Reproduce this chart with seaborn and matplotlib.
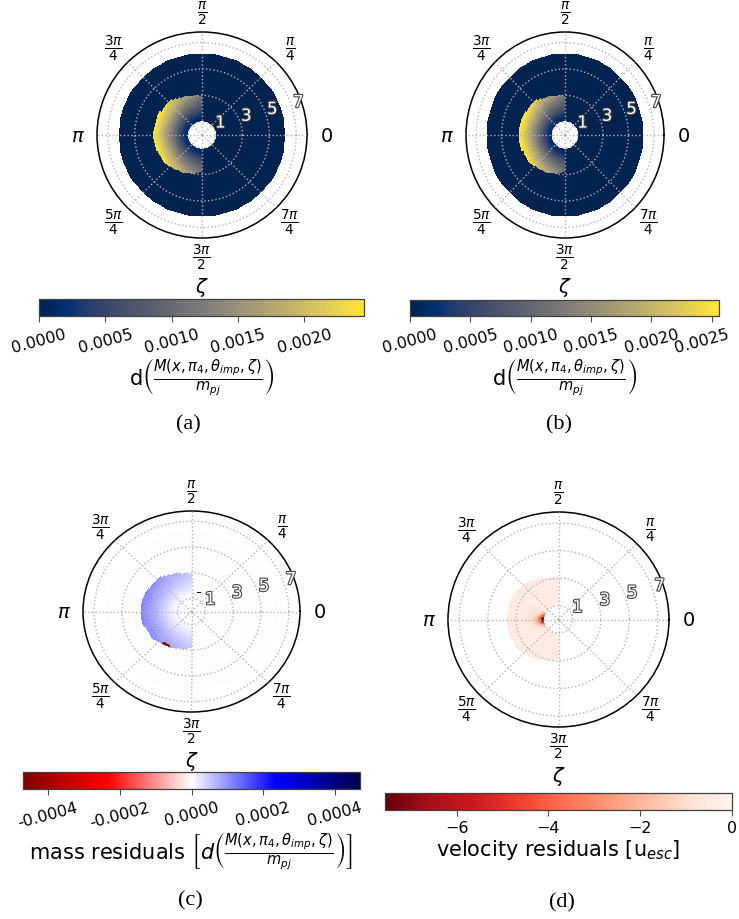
import numpy as np
import matplotlib
matplotlib.use("Agg")
import matplotlib.pyplot as plt
import matplotlib.patheffects as pe
import matplotlib.transforms as mtransforms
from matplotlib.ticker import FormatStrFormatter
import seaborn as sns

sns.set_style("white")
plt.rcParams["font.family"] = ["DejaVu Sans"]
plt.rcParams["mathtext.fontset"] = "dejavusans"
plt.rcParams["axes.unicode_minus"] = True
for key in ("text.color", "axes.labelcolor", "xtick.color", "ytick.color"):
    plt.rcParams[key] = "black"

# ---------------------------------------------------------------- data
# polar sampling of the maps (theta in degrees, r in units of x)
theta_step_deg = 5
r_inner, r_step, n_r = 1.05, 0.1, 51

# fragment region: sector centres (deg), outer radius and angular weight
blob_theta_deg = [92.5, 97.5, 102.5, 107.5, 112.5, 117.5, 122.5, 127.5, 132.5,
                  137.5, 142.5, 147.5, 152.5, 157.5, 162.5, 167.5, 172.5, 177.5,
                  182.5, 187.5, 192.5, 197.5, 202.5, 207.5, 212.5, 217.5, 222.5,
                  227.5, 232.5, 237.5, 242.5, 247.5, 252.5, 257.5, 262.5, 267.5]
blob_outer_r = [2.95, 3.0, 3.05, 3.1, 3.2, 3.3, 3.4, 3.45, 3.5,
                3.5, 3.55, 3.55, 3.6, 3.6, 3.62, 3.62, 3.62, 3.62,
                3.62, 3.62, 3.6, 3.6, 3.58, 3.55, 3.5, 3.5, 3.45,
                3.4, 3.35, 3.25, 3.2, 3.1, 3.05, 3.0, 2.95, 2.9]
blob_weight = [0.45, 0.5, 0.55, 0.6, 0.65, 0.7, 0.76, 0.82, 0.87,
               0.91, 0.94, 0.97, 0.99, 1.0, 1.0, 1.0, 1.0, 1.0,
               1.0, 1.0, 1.0, 1.0, 1.0, 0.99, 0.97, 0.94, 0.91,
               0.87, 0.82, 0.77, 0.72, 0.67, 0.62, 0.57, 0.52, 0.47]
# radial shape across the fragment region (0 = inner edge, 1 = outer edge)
profile_u = [0.0, 0.2, 0.4, 0.6, 0.8, 1.0]
profile_v = [0.0, 0.18, 0.42, 0.65, 0.86, 1.0]

# (a), (b): normalised fragment mass
mass_max_a = 0.00245
mass_max_b = 0.00256

# (c): mass residuals
resid_lim = 0.00047
resid_amp = 0.000105
resid_background = 0.000003
resid_spot_theta = [232.5, 237.5, 232.5, 237.5, 67.5, 72.5]
resid_spot_r = [3.1, 3.1, 3.2, 3.2, 1.6, 1.6]
resid_spot_value = [-0.00045, -0.00045, -0.00045, -0.00045, 0.00045, 0.00045]

# (d): velocity residuals [u_esc]
vel_min = -7.56
vel_base = -0.45
vel_core_r = [-7.1, -5.2, -3.6, -2.5, -1.8, -1.3, -1.0, -0.8, -0.6, -0.45,
              -0.35, -0.25, -0.18, -0.1]
vel_core_theta_deg = [152.5, 157.5, 162.5, 167.5, 172.5, 177.5,
                      182.5, 187.5, 192.5, 197.5, 202.5, 207.5]
vel_core_weight = [0.15, 0.25, 0.4, 0.6, 0.85, 1.0, 1.0, 0.9, 0.65, 0.42, 0.25, 0.15]

theta_labels = ["0", r"$\frac{\pi}{4}$", r"$\frac{\pi}{2}$", r"$\frac{3\pi}{4}$",
                r"$\pi$", r"$\frac{5\pi}{4}$", r"$\frac{3\pi}{2}$", r"$\frac{7\pi}{4}$"]
r_ticks = [1, 3, 5, 7]

mass_ticks = [0.0, 0.0005, 0.0010, 0.0015, 0.0020]
mass_ticks_b = [0.0, 0.0005, 0.0010, 0.0015, 0.0020, 0.0025]
resid_ticks = [-0.0004, -0.0002, 0.0, 0.0002, 0.0004]
vel_ticks = [-6, -4, -2, 0]

mass_label = r"d$\left(\frac{M(x, \pi_4, \theta_{imp}, \zeta)}{m_{pj}}\right)$"
resid_label = (r"mass residuals $\left[d\left(\frac{M(x, \pi_4, \theta_{imp}, \zeta)}"
               r"{m_{pj}}\right)\right]$")
vel_label = r"velocity residuals [u$_{esc}$]"

# ---------------------------------------------------------------- grids
theta_c = np.arange(theta_step_deg / 2, 360, theta_step_deg)
theta_edges = np.deg2rad(np.arange(0, 360 + theta_step_deg, theta_step_deg))
r_edges = r_inner + r_step * np.arange(n_r + 1)
r_c = 0.5 * (r_edges[:-1] + r_edges[1:])


def col(th):
    return int(np.argmin(np.abs(theta_c - th)))


def row(r):
    return int(np.argmin(np.abs(r_c - r)))


def blob_shape():
    shape = np.zeros((n_r, theta_c.size))
    inside = np.zeros_like(shape, dtype=bool)
    for th, ro, w in zip(blob_theta_deg, blob_outer_r, blob_weight):
        j = col(th)
        sel = r_c <= ro
        u = (r_c[sel] - r_inner) / (ro - r_inner)
        shape[sel, j] = w * np.interp(u, profile_u, profile_v)
        inside[sel, j] = True
    return shape, inside


shape, inside = blob_shape()

Z_a = mass_max_a * shape
Z_b = mass_max_b * shape

Z_c = resid_background + resid_amp * shape
for th, r, v in zip(resid_spot_theta, resid_spot_r, resid_spot_value):
    Z_c[row(r), col(th)] = v

Z_d = np.where(inside, vel_base, np.nan)
for th, w in zip(vel_core_theta_deg, vel_core_weight):
    j = col(th)
    for i, v in enumerate(vel_core_r):
        if inside[i, j]:
            Z_d[i, j] = vel_base + w * v

# ---------------------------------------------------------------- figure
W, H = 739, 920
fig = plt.figure(figsize=(W / 100, H / 100), dpi=100)


def px_box(x0, y0, x1, y1):
    return [x0 / W, 1 - y1 / H, (x1 - x0) / W, (y1 - y0) / H]


panels = [
    dict(Z=Z_a, cmap="cividis", vmin=0, vmax=mass_max_a, ticks=mass_ticks,
         fmt="%.4f", rot=15, label=mass_label,
         ax=(97, 33, 307, 239), cax=(39, 300, 364, 317), cap="(a)", cxy=(188, 425)),
    dict(Z=Z_b, cmap="cividis", vmin=0, vmax=mass_max_b, ticks=mass_ticks_b,
         fmt="%.4f", rot=15, label=mass_label,
         ax=(466, 33, 664, 239), cax=(410, 301, 719, 317), cap="(b)", cxy=(559, 425)),
    dict(Z=Z_c, cmap="seismic_r", vmin=-resid_lim, vmax=resid_lim, ticks=resid_ticks,
         fmt="%.4f", rot=15, label=resid_label,
         ax=(83, 512, 300, 713), cax=(23, 773, 360, 790), cap="(c)", cxy=(190, 901)),
    dict(Z=Z_d, cmap="Reds_r", vmin=vel_min, vmax=0, ticks=vel_ticks,
         fmt=None, rot=0, label=vel_label,
         ax=(448, 513, 669, 728), cax=(385, 794, 732, 811), cap="(d)", cxy=(562, 903)),
]

for p in panels:
    ax = fig.add_axes(px_box(*p["ax"]), projection="polar")
    ax.set_aspect("auto")
    cmap = sns.color_palette(p["cmap"], as_cmap=True)
    mesh = ax.pcolormesh(theta_edges, r_edges, p["Z"], cmap=cmap,
                         vmin=p["vmin"], vmax=p["vmax"], shading="flat")
    ax.set_ylim(0, 7.8)
    ax.set_axisbelow(False)
    ax.grid(True, color="#b4b4b4", linestyle=":", linewidth=1.0)
    ax.spines["polar"].set_color("black")
    ax.spines["polar"].set_linewidth(1.1)

    ax.set_xticks(np.arange(8) * np.pi / 4)
    ax.set_xticklabels(theta_labels, fontsize=14)
    ax.tick_params(axis="x", pad=3.5, length=3.5)
    ax.set_xlabel(r"$\zeta$", fontsize=14, labelpad=2)

    ax.set_yticks(r_ticks)
    ax.set_yticklabels([str(t) for t in r_ticks], fontsize=12, color="white")
    ax.set_rlabel_position(15)
    for t in ax.get_yticklabels():
        t.set_path_effects([pe.withStroke(linewidth=1.6, foreground="#444444")])

    cax = fig.add_axes(px_box(*p["cax"]))
    cb = fig.colorbar(mesh, cax=cax, orientation="horizontal")
    cb.set_ticks(p["ticks"])
    if p["fmt"]:
        cb.ax.xaxis.set_major_formatter(FormatStrFormatter(p["fmt"]))
    cb.ax.tick_params(labelsize=11.5, length=4, width=0.8, color="0.3", pad=3.5)
    for t in cb.ax.get_xticklabels():
        t.set_rotation(p["rot"])
    cb.outline.set_linewidth(0.9)
    cb.outline.set_edgecolor("0.25")
    cb.set_label(p["label"], fontsize=15, labelpad=1)
    if p["cap"] == "(b)":
        # pull the last label back inside the figure edge
        last = cb.ax.xaxis.get_major_ticks()[-1].label1
        last.set_transform(last.get_transform() +
                           mtransforms.ScaledTranslation(-0.1, 0, fig.dpi_scale_trans))

    fig.text(p["cxy"][0] / W, 1 - p["cxy"][1] / H, p["cap"], ha="center", va="center",
             fontsize=16, family="Liberation Serif")

fig.savefig("out.png", dpi=100)
